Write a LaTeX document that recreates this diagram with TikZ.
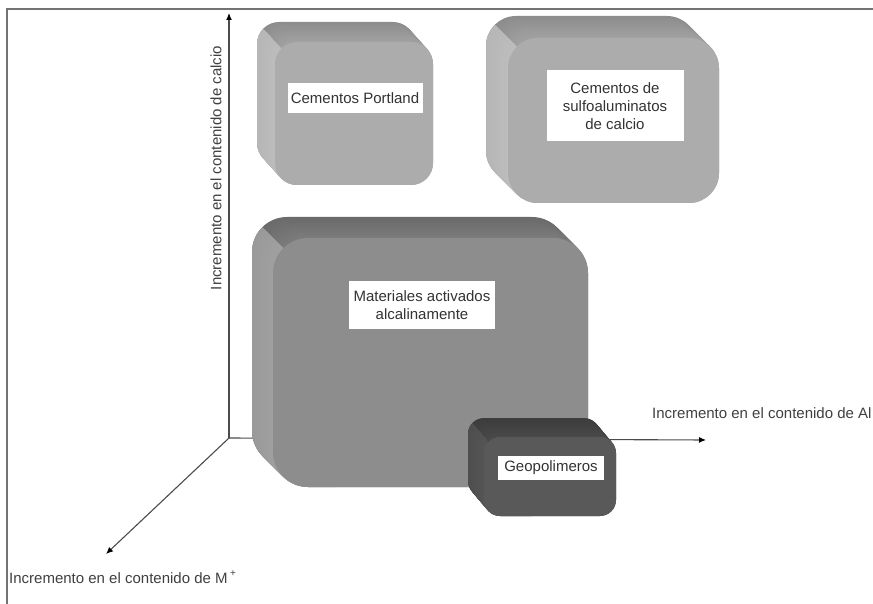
\documentclass[tikz,border=0pt]{standalone}
\usepackage{fontspec}
\setmainfont{Liberation Sans}
\usetikzlibrary{arrows.meta,calc}

% palettes: top face (back -> front), left face (back -> front), front face
\definecolor{ptop}{HTML}{8C8C8C}\definecolor{ptopf}{HTML}{A2A2A2}
\definecolor{pside}{HTML}{B6B6B6}\definecolor{psidef}{HTML}{BDBDBD}
\definecolor{pfront}{HTML}{ACACAC}
\definecolor{mtop}{HTML}{6A6A6A}\definecolor{mtopf}{HTML}{7C7C7C}
\definecolor{mside}{HTML}{999999}\definecolor{msidef}{HTML}{A0A0A0}
\definecolor{mfront}{HTML}{8D8D8D}
\definecolor{gtop}{HTML}{3C3C3C}\definecolor{gtopf}{HTML}{4A4A4A}
\definecolor{gside}{HTML}{4E4E4E}\definecolor{gsidef}{HTML}{555555}
\definecolor{gfront}{HTML}{595959}

\newcommand{\lblfont}{\fontsize{15}{18}\selectfont}

% extruded rounded slab: front corners (#1,#2)-(#3,#4), depth (#5,#6),
% corner radius #7, palette prefix #8
\newcommand{\slab}[8]{%
  \foreach \k in {0,...,24}{%
    \pgfmathsetmacro{\f}{1-\k/24}%
    \pgfmathsetmacro{\p}{100-\k*100/24}%
    \fill[#8top!\p!#8topf, rounded corners=#7]
      (#1-\f*#5, #2-\f*#6) rectangle (#3-\f*#5, #4-\f*#6);
  }%
  \begin{scope}
    \clip (#1-3*#5, #2-3*#6) -- (#1+3*#5, #2+3*#6) -- (#1+3*#5, #4+400)
      -- (#1-400, #4+400) -- (#1-400, #2-3*#6) -- cycle;
    \foreach \k in {0,...,24}{%
      \pgfmathsetmacro{\f}{1-\k/24}%
      \pgfmathsetmacro{\p}{100-\k*100/24}%
      \fill[#8side!\p!#8sidef, rounded corners=#7]
        (#1-\f*#5, #2-\f*#6) rectangle (#3-\f*#5, #4-\f*#6);
    }%
  \end{scope}
  \fill[#8front, rounded corners=#7] (#1,#2) rectangle (#3,#4);
}

\tikzset{
  axisline/.style={draw=black!70, line width=1.1pt,
    -{Latex[length=7pt,width=6pt,color=black]}},
  frameline/.style={draw=black!55, line width=2pt},
  tag/.style={fill=white, text=black!80, align=center, inner sep=0pt, font=\lblfont},
  axislabel/.style={text=black!75, inner sep=0pt, font=\lblfont},
}

\begin{document}
\begin{tikzpicture}[x=1pt, y=-1pt]
  \useasboundingbox (0,0) rectangle (873,604);
  \clip (0,0) rectangle (873,604);
  \fill[white] (0,0) rectangle (873,604);

  % frame edges
  \coordinate (fbl) at (7,605);
  \coordinate (ftl) at (7,9.5);
  \coordinate (ftr) at (874,9.5);
  \draw[frameline] (fbl) -- (ftl) -- (ftr);

  % axes
  \coordinate (origin) at (229,438);
  \coordinate (calcio) at (229,13);
  \coordinate (alum) at (706,440);
  \coordinate (alkali) at (106,554);
  \draw[axisline] (origin) -- (calcio);
  \draw[axisline] (origin) -- (alum);
  \draw[axisline] (origin) -- (alkali);

  % material families
  \slab{275}{42}{433}{185}{18}{20}{22pt}{p}
  \slab{508}{38}{719}{203}{22}{22}{30pt}{p}
  \slab{273}{238}{588}{487}{21}{21}{35pt}{m}
  \slab{484}{437}{616}{516}{16}{19}{16pt}{g}

  \node[tag, minimum width=135pt, minimum height=30pt] (portland) at (355,98) {Cementos Portland};
  \node[tag, minimum width=137pt, minimum height=71pt] (csa) at (615,106) {Cementos de\\sulfoaluminatos\\de calcio};
  \node[tag, minimum width=146pt, minimum height=48pt] (aam) at (422,305) {Materiales activados\\alcalinamente};
  \node[tag, minimum width=106pt, minimum height=24pt] (geo) at (551,468) {Geopolimeros};

  % axis captions
  \node[axislabel, rotate=90] (lcalcio) at (216,168) {Incremento en el contenido de calcio};
  \node[axislabel, anchor=west] (lal) at (652,413) {Incremento en el contenido de Al};
  \node[axislabel, anchor=west] (lm) at (9,577) {Incremento en el contenido de M\,\raisebox{7pt}{\fontsize{10}{10}\selectfont +}};
\end{tikzpicture}
\end{document}
